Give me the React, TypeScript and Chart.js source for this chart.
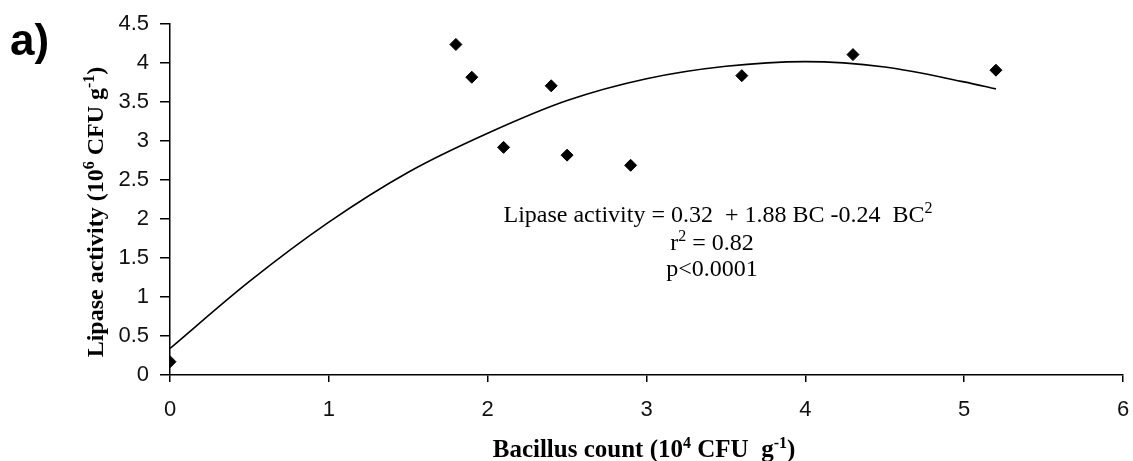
import React, { useEffect, useRef } from "react";
import { Chart, registerables } from "chart.js";

Chart.register(...registerables);

// observed points (Bacillus count vs lipase activity)
const pointX = [0, 1.8, 1.9, 2.1, 2.4, 2.5, 2.9, 3.6, 4.3, 5.2];
const pointY = [0.17, 4.24, 3.82, 2.92, 3.71, 2.82, 2.69, 3.84, 4.11, 3.91];

// fitted curve
const curveX = [0, 0.5, 1, 1.5, 2, 2.5, 3, 3.5, 4, 4.5, 5, 5.2];
const curveY = [0.34, 1.2, 1.96, 2.6, 3.1, 3.52, 3.8, 3.96, 4.02, 3.95, 3.76, 3.67];

const panelLabel = "a)";
const eqLines = [
  [{ t: "Lipase activity = 0.32  + 1.88 BC -0.24  BC" }, { t: "2", sup: true }],
  [{ t: "r" }, { t: "2", sup: true }, { t: " = 0.82" }],
  [{ t: "p<0.0001" }],
];
const xTitle = [{ t: "Bacillus count (10" }, { t: "4", sup: true }, { t: " CFU  g" }, { t: "-1", sup: true }, { t: ")" }];
const yTitle = [{ t: "Lipase activity (10" }, { t: "6", sup: true }, { t: " CFU g" }, { t: "-1", sup: true }, { t: ")" }];

type Seg = { t: string; sup?: boolean };

const drawRich = (
  ctx: CanvasRenderingContext2D,
  segs: Seg[],
  x: number,
  y: number,
  size: number,
  weight: string
) => {
  const fam = "'Liberation Serif', 'Times New Roman', serif";
  const font = (s: boolean) => `${weight} ${s ? Math.round(size * 0.65) : size}px ${fam}`;
  let total = 0;
  segs.forEach((s) => {
    ctx.font = font(!!s.sup);
    total += ctx.measureText(s.t).width;
  });
  let cx = x - total / 2;
  ctx.textAlign = "left";
  ctx.textBaseline = "alphabetic";
  segs.forEach((s) => {
    ctx.font = font(!!s.sup);
    ctx.fillText(s.t, cx, s.sup ? y - size * 0.38 : y);
    cx += ctx.measureText(s.t).width;
  });
};

const textPlugin = {
  id: "textPlugin",
  afterDraw(chart: Chart) {
    const ctx = chart.ctx;
    ctx.save();
    ctx.fillStyle = "#000";

    // panel label
    ctx.font = "bold 44px 'Liberation Sans', Arial, sans-serif";
    ctx.textAlign = "left";
    ctx.textBaseline = "alphabetic";
    ctx.fillText(panelLabel, 10, 55);

    // equation block
    drawRich(ctx, eqLines[0] as Seg[], 718, 222, 24, "normal");
    drawRich(ctx, eqLines[1] as Seg[], 712, 250, 24, "normal");
    drawRich(ctx, eqLines[2] as Seg[], 712, 276, 24, "normal");

    // axis titles
    drawRich(ctx, xTitle, 644, 457, 25, "bold");
    ctx.translate(103, 212);
    ctx.rotate(-Math.PI / 2);
    drawRich(ctx, yTitle, 0, 0, 24, "bold");
    ctx.restore();
  },
};

const App = () => {
  const canvasRef = useRef<HTMLCanvasElement | null>(null);
  const chartRef = useRef<Chart | null>(null);

  useEffect(() => {
    document.body.style.margin = "0";
    const ctx = canvasRef.current?.getContext("2d");
    if (!ctx) return;
    if (chartRef.current) chartRef.current.destroy();

    chartRef.current = new Chart(ctx, {
      type: "scatter",
      data: {
        datasets: [
          {
            label: "fit",
            type: "line",
            data: curveX.map((x, i) => ({ x, y: curveY[i] })),
            borderColor: "#000",
            borderWidth: 1.6,
            pointRadius: 0,
            fill: false,
            cubicInterpolationMode: "monotone",
          },
          {
            label: "observed",
            data: pointX.map((x, i) => ({ x, y: pointY[i] })),
            backgroundColor: "#000",
            borderColor: "#000",
            pointStyle: "rectRot",
            pointRadius: 6,
            pointHoverRadius: 6,
          },
        ],
      },
      options: {
        animation: false,
        responsive: true,
        maintainAspectRatio: false,
        layout: { padding: { top: 24, right: 0, bottom: 0, left: 0 } },
        plugins: { legend: { display: false }, tooltip: { enabled: false } },
        scales: {
          x: {
            type: "linear",
            min: 0,
            max: 6,
            ticks: {
              stepSize: 1,
              color: "#111",
              padding: 15,
              font: { family: "'Liberation Sans', Arial, sans-serif", size: 22 },
            },
            grid: { drawOnChartArea: false, drawTicks: true, tickLength: 7, color: "#000", lineWidth: 1.5 },
            border: { color: "#000", width: 1.5 },
            afterFit: (scale: any) => {
              scale.height = 86;
              scale.paddingRight = 10;
            },
          },
          y: {
            min: 0,
            max: 4.5,
            ticks: {
              stepSize: 0.5,
              color: "#111",
              padding: 11,
              font: { family: "'Liberation Sans', Arial, sans-serif", size: 22 },
              callback: (v: any) => String(v),
            },
            grid: { drawOnChartArea: false, drawTicks: true, tickLength: 10, color: "#000", lineWidth: 1.5 },
            border: { color: "#000", width: 1.5 },
            afterFit: (scale: any) => {
              scale.width = 170;
            },
          },
        },
      },
      plugins: [textPlugin],
    });

    return () => {
      if (chartRef.current) {
        chartRef.current.destroy();
        chartRef.current = null;
      }
    };
  }, []);

  return (
    <div style={{ width: "1133px", height: "461px" }}>
      <canvas ref={canvasRef} style={{ width: "100%", height: "100%" }}></canvas>
    </div>
  );
};

export default App;
